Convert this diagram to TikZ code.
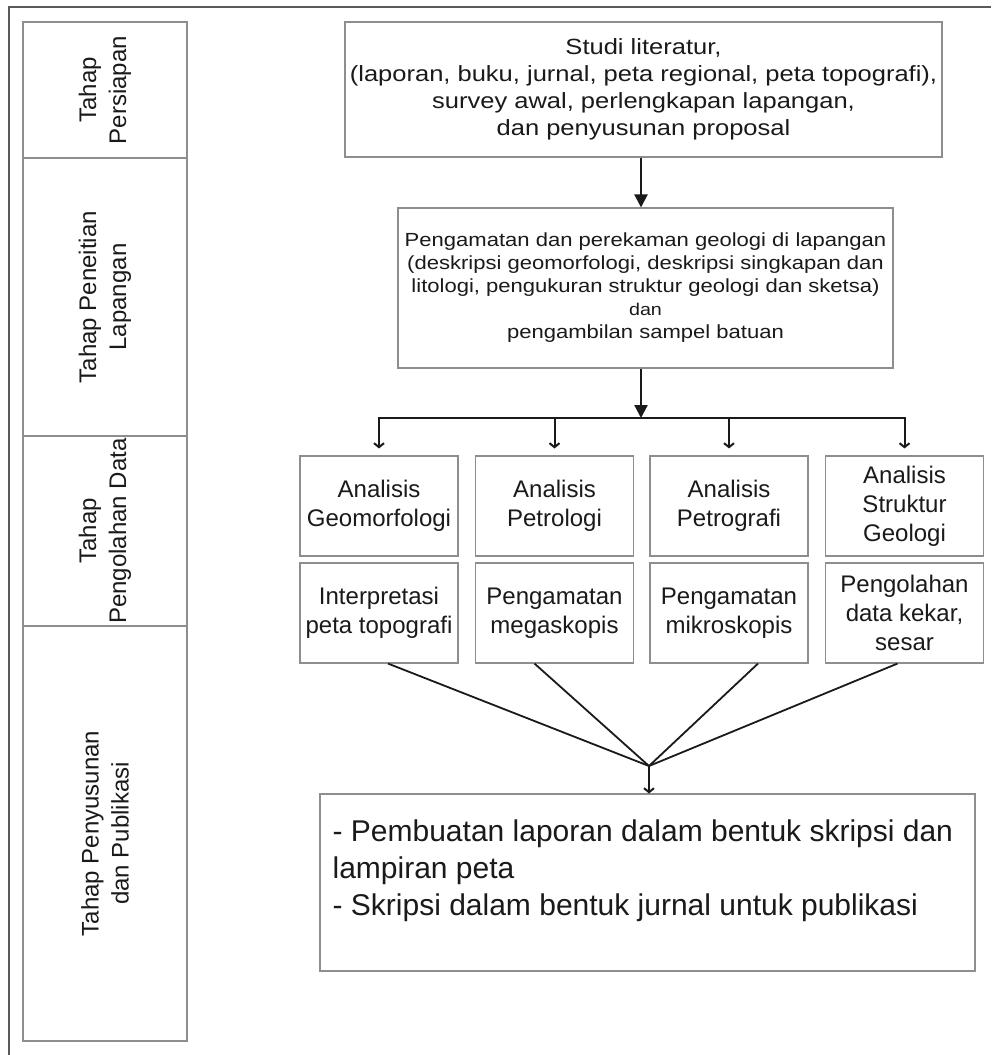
\documentclass[tikz,border=0pt]{standalone}
\usepackage{fontspec}
\setmainfont{Liberation Sans}
\newfontfamily\widefont[FakeStretch=1.16]{Liberation Sans}
\usetikzlibrary{arrows.meta,calc}
\definecolor{boxgray}{HTML}{8E8E8E}
\definecolor{framegray}{HTML}{5A5A5A}
\definecolor{ink}{HTML}{1A1A1A}
\begin{document}
\begin{tikzpicture}[x=1pt,y=-1pt,
  box/.style={draw=boxgray, line width=1.1pt, inner sep=0pt, align=center, text=ink},
  colbox/.style={draw=boxgray, line width=1.1pt, inner sep=0pt, align=center, text=ink,
    rotate=90, minimum height=164pt, font=\fontsize{24}{30}\selectfont},
  anbox/.style={box, minimum width=158pt, minimum height=100pt, font=\fontsize{24}{29}\selectfont},
  bigarrow/.style={draw=ink, line width=2.2pt, -{Triangle[length=13pt,width=13pt]}},
  smallarrow/.style={draw=ink, line width=2pt, -{Straight Barb[length=4pt,width=10pt,line width=2pt]}},
  conn/.style={draw=ink, line width=1.8pt},
  bar/.style={draw=ink, line width=2pt}
]
\useasboundingbox (0,0) rectangle (991,1055);
\fill[white] (0,0) rectangle (991,1055);

% outer frame (top and left)
\coordinate (ftl) at (9,7);
\coordinate (ftr) at (991,7);
\coordinate (fbl) at (9,1055);
\draw[framegray, line width=1.2pt] (ftr) -- (ftl) -- (fbl);

% left column
\node[colbox, minimum width=136pt] (r1) at (105,90) {Tahap\\Persiapan};
\node[colbox, minimum width=278pt] (r2) at (105,297) {Tahap Peneitian\\Lapangan};
\node[colbox, minimum width=190pt] (r3) at (105,531) {Tahap\\Pengolahan Data};
\node[colbox, minimum width=415pt] (r4) at (105,833.5) {Tahap Penyusunan\\dan Publikasi};

% main boxes
\node[box, minimum width=597pt, minimum height=135pt, font=\widefont\fontsize{22}{27}\selectfont] (studi) at (643.5,89.5)
  {Studi literatur,\\(laporan, buku, jurnal, peta regional, peta topografi),\\survey awal, perlengkapan lapangan,\\dan penyusunan proposal};
\node[box, minimum width=495pt, minimum height=160pt, font=\widefont\fontsize{19}{23}\selectfont] (peng) at (645.5,288)
  {Pengamatan dan perekaman geologi di lapangan\\(deskripsi geomorfologi, deskripsi singkapan dan\\litologi, pengukuran struktur geologi dan sketsa)\\{\fontsize{17}{21}\selectfont dan}\\pengambilan sampel batuan};

\node[anbox] (a1) at (379,506) {Analisis\\Geomorfologi};
\node[anbox] (a2) at (554.5,506) {Analisis\\Petrologi};
\node[anbox] (a3) at (729,506) {Analisis\\Petrografi};
\node[anbox] (a4) at (904.5,506) {Analisis\\Struktur\\Geologi};

\node[anbox] (p1) at (379,613) {Interpretasi\\peta topografi};
\node[anbox] (p2) at (554.5,613) {Pengamatan\\megaskopis};
\node[anbox] (p3) at (729,613) {Pengamatan\\mikroskopis};
\node[anbox] (p4) at (904.5,613) {Pengolahan\\data kekar,\\sesar};

\node[box, minimum width=655pt, minimum height=177pt] (fin) at (647.5,882.5) {};
\node[anchor=north west, inner sep=0pt, align=left, text=ink, font=\fontsize{30}{37}\selectfont] (fintext) at ($(fin.north west)+(13,26)$)
  {- Pembuatan laporan dalam bentuk skripsi dan\\lampiran peta\\- Skripsi dalam bentuk jurnal untuk publikasi};

% arrows
\coordinate (split) at (641,418);
\draw[bigarrow] (studi.south -| split) -- (peng.north -| split);
\draw[bigarrow] (peng.south -| split) -- (split);
\draw[bar] ($(a1.north |- split)+(-1,0)$) -- ($(a4.north |- split)+(1,0)$);
\foreach \n in {a1,a2,a3,a4}{
  \draw[smallarrow] (\n.north |- split) -- ($(\n.north)+(0,-7)$);
}

\coordinate (conv) at (649,766);
\draw[conn] ($(p1.south)+(9,0)$) -- (conv);
\draw[conn] ($(p2.south)+(-20,0)$) -- (conv);
\draw[conn] ($(p3.south)+(29,0)$) -- (conv);
\draw[conn] ($(p4.south)+(-7,0)$) -- (conv);
\draw[smallarrow] (conv) -- (conv |- fin.north);
\end{tikzpicture}
\end{document}
